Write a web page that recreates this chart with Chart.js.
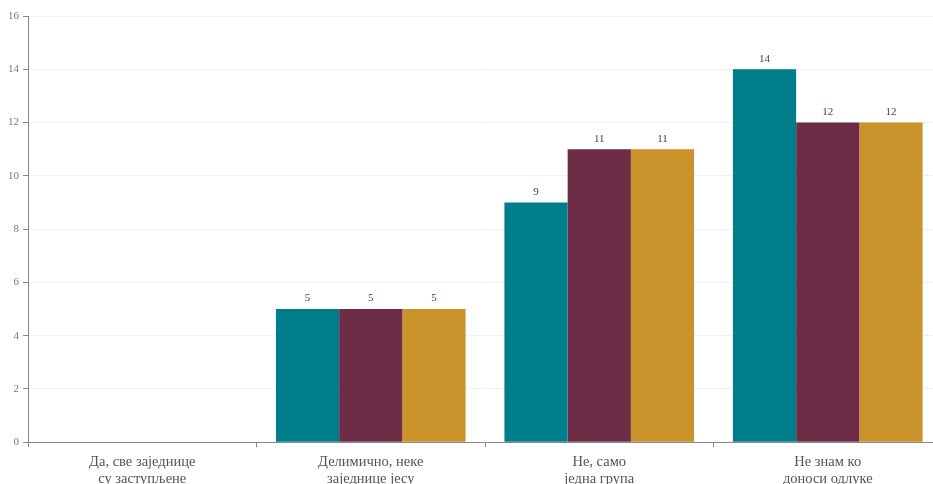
<!DOCTYPE html>
<html>
<head>
<meta charset="utf-8">
<script src="https://cdn.jsdelivr.net/npm/chart.js@4"></script>
<style>
  body { margin: 0; background: #fff; overflow: hidden; }
  #wrap { width: 942px; height: 494px; }
</style>
</head>
<body>
<div id="wrap"><canvas id="myChart"></canvas></div>
<script>
const categories = [
  ['Да, све заједнице', 'су заступљене'],
  ['Делимично, неке', 'заједнице јесу'],
  ['Не, само', 'једна група'],
  ['Не знам ко', 'доноси одлуке']
];
const series1 = [0, 5, 9, 14];
const series2 = [0, 5, 11, 12];
const series3 = [0, 5, 11, 12];
const yTicks = [0, 2, 4, 6, 8, 10, 12, 14, 16];

// labels above bars (skip zeros)
const valueLabels = {
  id: 'valueLabels',
  afterDatasetsDraw(chart) {
    const c = chart.ctx;
    c.save();
    c.font = '11px "Liberation Serif"';
    c.fillStyle = '#3b4660';
    c.textAlign = 'center';
    c.textBaseline = 'bottom';
    chart.data.datasets.forEach((ds, i) => {
      chart.getDatasetMeta(i).data.forEach((bar, j) => {
        if (!ds.data[j]) return;
        c.fillText(ds.data[j], bar.x, bar.y - 5);
      });
    });
    c.restore();
  }
};

const ctx = document.getElementById('myChart');

new Chart(ctx, {
  type: 'bar',
  data: {
    labels: categories,
    datasets: [
      { label: 'Серија 1', data: series1, backgroundColor: '#007d8a' },
      { label: 'Серија 2', data: series2, backgroundColor: '#6d2d46' },
      { label: 'Серија 3', data: series3, backgroundColor: '#c9922b' }
    ]
  },
  options: {
    responsive: true,
    maintainAspectRatio: false,
    animation: false,
    layout: { padding: { top: 16, right: 0, left: 4, bottom: 0 } },
    datasets: { bar: { categoryPercentage: 0.83, barPercentage: 1 } },
    plugins: {
      legend: { display: false },
      tooltip: { enabled: false }
    },
    scales: {
      x: {
        grid: { display: true, drawOnChartArea: false, offset: true, tickLength: 5, color: '#888' },
        border: { color: '#888' },
        ticks: {
          color: '#555',
          font: { family: 'Liberation Serif', size: 14.5, lineHeight: 1.2 },
          maxRotation: 0,
          padding: 6
        }
      },
      y: {
        min: 0,
        max: 16,
        afterBuildTicks(axis) { axis.ticks = yTicks.map(v => ({ value: v })); },
        grid: { color: '#eef0f3', tickLength: 5, tickColor: '#888' },
        border: { color: '#888' },
        ticks: {
          color: '#777',
          font: { family: 'Liberation Serif', size: 11 },
          padding: 4
        }
      }
    }
  },
  plugins: [valueLabels]
});
</script>
</body>
</html>
